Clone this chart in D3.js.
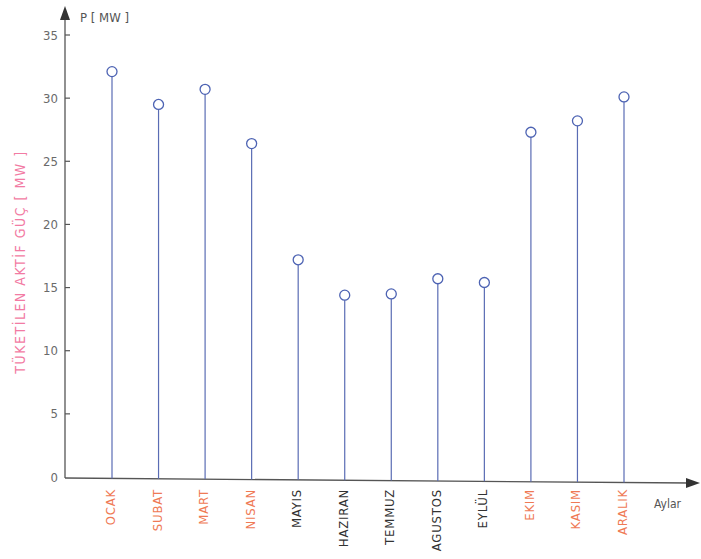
<!DOCTYPE html>
<meta charset="utf-8">
<style>
body { margin: 0; background: #fff; }
svg text { font-family: "Liberation Sans Narrow", "DejaVu Sans Condensed", "Liberation Sans", sans-serif; }
.tick-label { fill: #6a6a6a; font-size: 13px; }
.stem { stroke: #5a6cb4; stroke-width: 1.2; }
.dot { fill: #fff; stroke: #4d63b3; stroke-width: 1.3; }
</style>
<body>
<svg width="701" height="559"></svg>
<script src="https://d3js.org/d3.v7.min.js"></script>
<script>

var months = ["OCAK", "SUBAT", "MART", "NISAN", "MAYIS", "HAZIRAN", "TEMMUZ", "AGUSTOS", "EYLÜL", "EKIM", "KASIM", "ARALIK"];
var power = [32.1, 29.5, 30.7, 26.4, 17.2, 14.4, 14.5, 15.7, 15.4, 27.3, 28.2, 30.1];
// winter months drawn in orange, summer months in dark grey
var winter = [true, true, true, true, false, false, false, false, false, true, true, true];
var yTicks = [0, 5, 10, 15, 20, 25, 30, 35];

var svg = d3.select("svg");

var x = d3.scalePoint().domain(months).range([112, 624]);
var y = d3.scaleLinear().domain([0, 35]).range([477, 35]);

var x0 = 65, y0 = 478;

// axes lines with arrows
svg.append("line").attr("x1", x0).attr("y1", y0).attr("x2", x0).attr("y2", 14)
    .attr("stroke", "#555").attr("stroke-width", 1.3);
svg.append("path").attr("d", "M" + x0 + ",6 L" + (x0 - 5) + ",20 L" + (x0 + 5) + ",20 Z").attr("fill", "#333");

svg.append("line").attr("x1", x0).attr("y1", y0).attr("x2", 690).attr("y2", y0 + 5)
    .attr("stroke", "#555").attr("stroke-width", 1.3);
svg.append("path").attr("d", "M700," + (y0 + 5) + " L686," + y0 + " L686," + (y0 + 10) + " Z").attr("fill", "#333");

// y ticks
var yt = svg.append("g").selectAll("g").data(yTicks).enter().append("g");
yt.filter(function(d) { return d > 0; }).append("line")
    .attr("x1", x0).attr("x2", x0 + 5)
    .attr("y1", function(d) { return y(d); }).attr("y2", function(d) { return y(d); })
    .attr("stroke", "#555").attr("stroke-width", 1.2);
yt.append("text").attr("class", "tick-label")
    .attr("x", x0 - 7).attr("y", function(d) { return y(d); })
    .attr("dy", "0.35em").attr("text-anchor", "end")
    .text(function(d) { return d; });

// stems
svg.append("g").selectAll("line").data(power).enter().append("line")
    .attr("class", "stem")
    .attr("x1", function(d, i) { return x(months[i]); })
    .attr("x2", function(d, i) { return x(months[i]); })
    .attr("y1", function(d, i) { return y0 + (x(months[i]) - x0) * 5 / 625; })
    .attr("y2", function(d) { return y(d); });

svg.append("g").selectAll("circle").data(power).enter().append("circle")
    .attr("class", "dot")
    .attr("cx", function(d, i) { return x(months[i]); })
    .attr("cy", function(d) { return y(d); })
    .attr("r", 5);

// month labels
svg.append("g").selectAll("text").data(months).enter().append("text")
    .attr("transform", function(d) { return "translate(" + (x(d) + 3) + ",489) rotate(-90)"; })
    .attr("text-anchor", "end")
    .attr("font-size", "13px")
    .attr("letter-spacing", "0.8")
    .attr("fill", function(d, i) { return winter[i] ? "#ef7a55" : "#333"; })
    .text(function(d) { return d; });

// titles
svg.append("text").attr("x", 80).attr("y", 22).attr("font-size", "13px").attr("fill", "#555")
    .text("P [ MW ]");
svg.append("text").attr("x", 654).attr("y", 508).attr("font-size", "12px").attr("fill", "#555")
    .text("Aylar");
svg.append("text")
    .attr("transform", "translate(25,262) rotate(-90)")
    .attr("text-anchor", "middle").attr("font-size", "14px").attr("letter-spacing", "1.5")
    .attr("fill", "#f27ba3")
    .text("TÜKETİLEN AKTİF GÜÇ [ MW ]");

</script>
</body>
